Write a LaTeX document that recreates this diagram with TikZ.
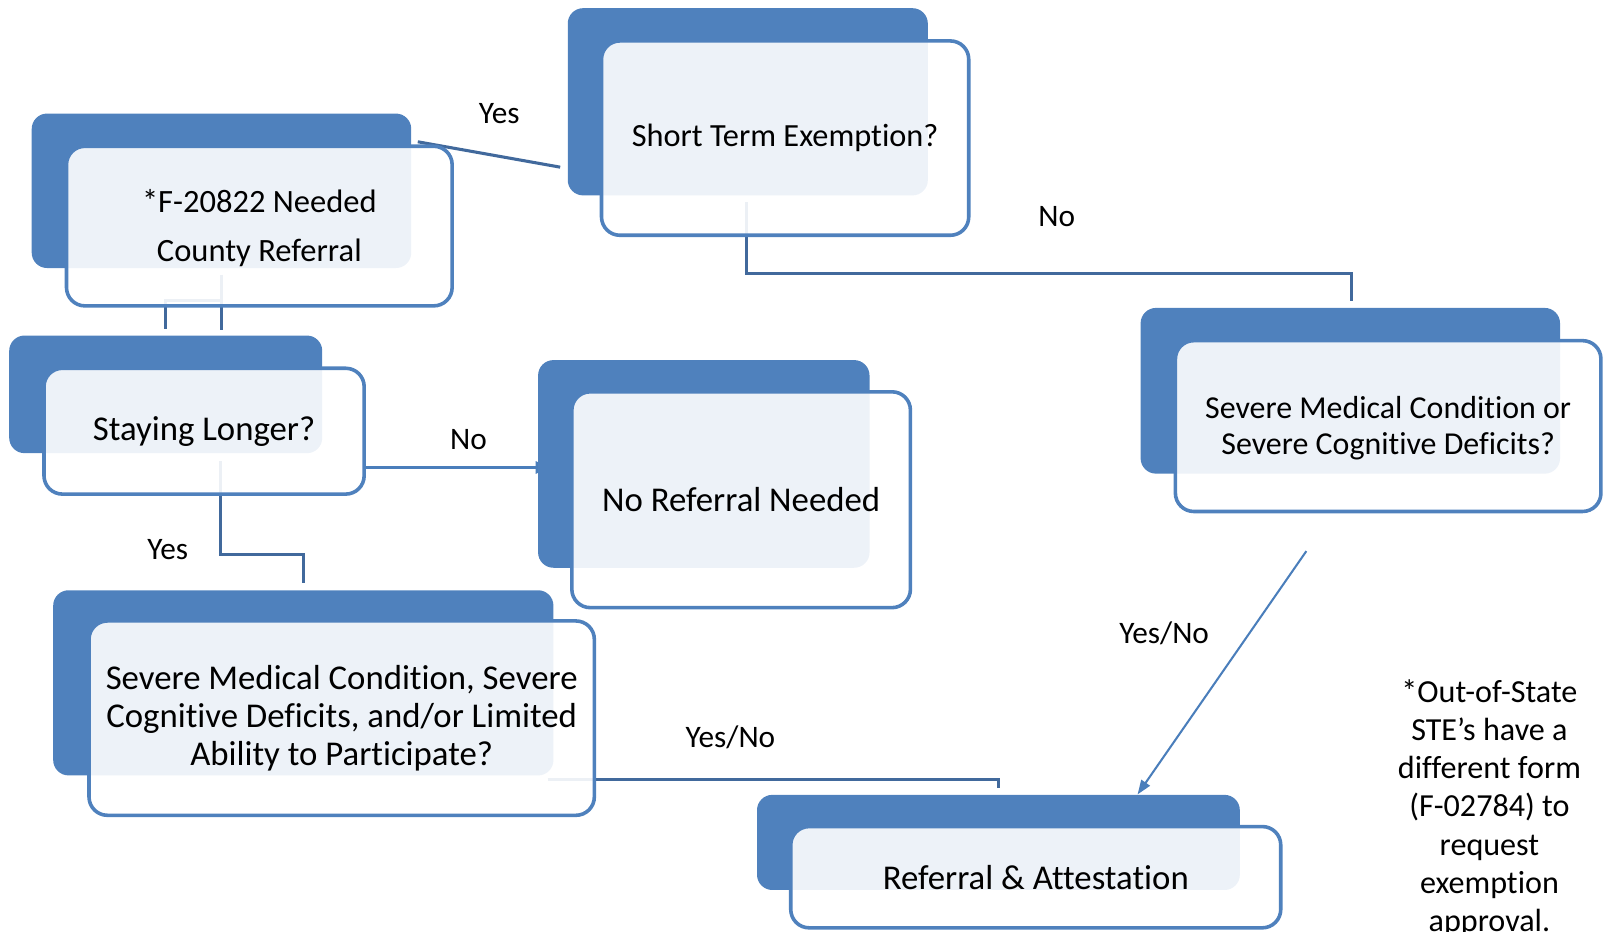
\documentclass[tikz,border=0pt]{standalone}
\usepackage{fontspec}
\setmainfont{Carlito}[Ligatures={NoCommon}]
\usetikzlibrary{fit,calc,arrows.meta}
\definecolor{dk}{HTML}{4F81BD}
\definecolor{ln}{HTML}{41699C}
\definecolor{tn}{HTML}{4A7EBB}
\pgfdeclarelayer{bg}
\pgfsetlayers{bg,main}
\newcommand\boxfont{\fontsize{15.3}{18.6}\selectfont}
\newcommand\fsz[2]{\fontsize{#1}{#2}\selectfont}
\begin{document}
\begin{tikzpicture}[x=0.5pt,y=-0.5pt,
 darkbox/.style={fill=dk, draw=none, rounded corners=7.5pt, inner sep=0pt},
 frontbox/.style={draw=dk, line width=1.75pt, fill=white, fill opacity=0.9, rounded corners=9pt, inner sep=0pt},
 boxtxt/.style={inner sep=0pt, align=center},
 conn/.style={draw=ln, line width=1.5pt},
 thinconn/.style={draw=tn, line width=1pt},
 lbl/.style={font=\boxfont, inner sep=0pt, align=center}]
\useasboundingbox (0,0) rectangle (1568,911);
\clip (0,0) rectangle (1568,911);

% boxes
\node[darkbox, fit={(555,8)(907,191)}] (Ad) {};
\node[frontbox, fit={(588,40)(947,230)}] (Af) {};
\node[boxtxt, font=\fsz{15.8}{19}] (At) at (Af.center) {Short Term Exemption?};

\node[darkbox, fit={(31,111)(402,262)}] (Bd) {};
\node[frontbox, fit={(65,143)(442,299)}] (Bf) {};
\node[boxtxt, font=\fsz{15.9}{24}] (Bt) at ($(Bf.center)+(0,2)$) {*F-20822 Needed\\County Referral};

\node[darkbox, fit={(9,328)(315,443)}] (Cd) {};
\node[frontbox, fit={(43,360)(356,483)}] (Cf) {};
\node[boxtxt, font=\fsz{17}{20}] (Ct) at (Cf.center) {Staying Longer?};

\node[darkbox, fit={(526,352)(850,555)}] (Dd) {};
\node[frontbox, fit={(559,383)(890,594)}] (Df) {};
\node[boxtxt, font=\fsz{17}{20}] (Dt) at (Df.center) {No Referral Needed};

\node[darkbox, fit={(1115,301)(1525,463)}] (Ed) {};
\node[frontbox, fit={(1149,333)(1565,500)}] (Ef) {};
\node[boxtxt, font=\fsz{15.6}{17.5}] (Et) at ($(Ef.center)+(0,2)$) {Severe Medical Condition or\\Severe Cognitive Deficits?};

\node[darkbox, fit={(52,577)(541,758)}] (Fd) {};
\node[frontbox, fit={(87,607)(581,797)}] (Ff) {};
\node[boxtxt, font=\fsz{17}{18.5}] (Ft) at (Ff.center) {Severe Medical Condition, Severe\\Cognitive Deficits, and/or Limited\\Ability to Participate?};

\node[darkbox, fit={(740,777)(1212,870)}] (Gd) {};
\node[frontbox, fit={(773,808)(1252,907)}] (Gf) {};
\node[boxtxt, font=\fsz{17}{20}] (Gt) at (Gf.center) {Referral \& Attestation};

% connectors
\begin{pgfonlayer}{bg}
\draw[conn] ($(Bd.north east)+(6,28)$) -- ($(Ad.south west)+(-7,-28)$);
\draw[conn] ($(Ad.south)+(-1,6)$) -- ++(0,70) -| ($(Ed.north)+(1,-6)$);
\draw[conn] ($(Bd.south)+(0,6)$) -- ++(0,54);
\draw[conn] ($(Bd.south)+(0,31)$) -| ($(Cd.north)+(0,-6)$);
\draw[thinconn, -{Triangle[length=7pt,width=6pt]}] ($(Cf.east)+(0,35.5)$) coordinate (cs) -- ($(cs -| Dd.west)+(12,0)$);
\draw[conn] ($(Cd.south)+(54,7)$) -- ++(0,92) -| ($(Fd.north)+(0,-7)$);
\draw[conn] ($(Fd.south east)+(-6,4)$) -| ($(Gd.north)+(0,-6)$);
\draw[thinconn, -{Triangle[length=7pt,width=5pt]}] ($(Ef.south)+(-80,37)$) -- ($(Gd.north)+(136,0)$);
\end{pgfonlayer}

% labels
\node[lbl] (l1) at (488,111) {Yes};
\node[lbl] (l2) at (1033,212) {No};
\node[lbl] (l3) at (458,430) {No};
\node[lbl] (l4) at (164,537) {Yes};
\node[lbl] (l5) at (714,721) {Yes/No};
\node[lbl] (l6) at (1138,619) {Yes/No};

\node[lbl, font=\fsz{15.7}{18.6}] (note) at (1456,790) {*Out-of-State\\STE’s have a\\different form\\(F-02784) to\\request\\exemption\\approval.};
\end{tikzpicture}
\end{document}
